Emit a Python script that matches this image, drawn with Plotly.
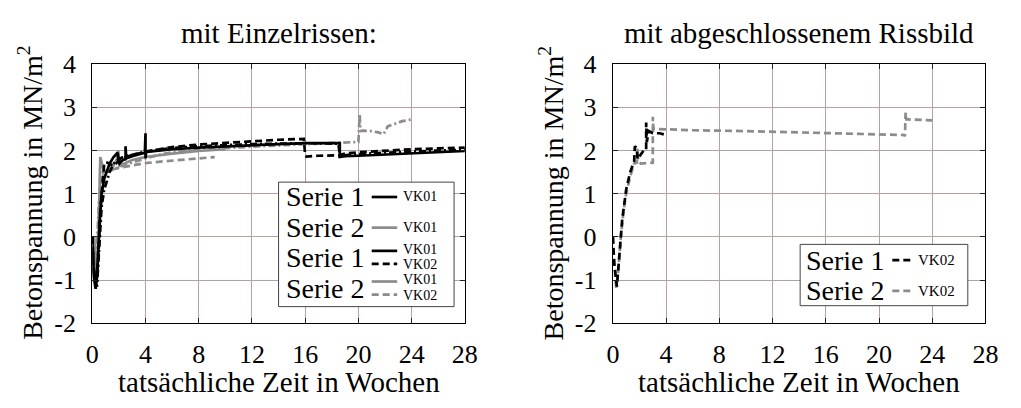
import plotly.graph_objects as go

# ---------------- data: left panel "mit Einzelrissen" ----------------
L_s1_vk01_x = [0, 0.1, 0.25, 0.4, 0.55, 0.7, 0.9, 1.1, 1.3, 1.6, 1.9, 2.0, 2.05, 2.3, 2.5, 2.5, 2.55, 3.0, 3.5, 3.95, 4.0, 4.0, 4.05, 5, 6, 8, 10, 12, 14, 16, 17, 18.6, 18.6, 19, 20, 22, 24, 26, 28]
L_s1_vk01_y = [0, -0.9, -1.2, -0.6, 0.3, 1.0, 1.35, 1.55, 1.7, 1.85, 1.95, 1.75, 1.7, 1.78, 1.8, 2.1, 1.82, 1.87, 1.92, 1.95, 2.4, 1.82, 1.97, 2.0, 2.03, 2.07, 2.1, 2.12, 2.15, 2.17, 2.17, 2.17, 1.85, 1.87, 1.88, 1.91, 1.94, 1.97, 1.99]

L_s1_vk02_x = [0, 0.1, 0.3, 0.45, 0.6, 0.75, 0.9, 1.1, 1.3, 1.5, 1.8, 2.1, 2.5, 3, 4, 5, 6, 8, 10, 12, 14, 15.9, 16.0, 16.1, 17, 18.5, 19, 20, 22, 24, 26, 28]
L_s1_vk02_y = [0, -0.7, -1.15, -0.5, 0.6, 1.2, 1.72, 1.72, 1.7, 1.65, 1.7, 1.8, 1.85, 1.9, 1.97, 2.03, 2.08, 2.14, 2.18, 2.22, 2.25, 2.27, 1.88, 1.86, 1.88, 1.89, 1.93, 1.96, 2.0, 2.03, 2.05, 2.07]

L_s1_mix_x = [0, 0.15, 0.35, 0.5, 0.7, 0.9, 1.1, 1.3, 1.6, 2.0, 2.5, 3, 4, 6, 8, 12, 16, 18.5, 18.6, 20, 22, 24, 26, 28]
L_s1_mix_y = [0, -1.0, -1.15, -0.3, 0.7, 1.1, 1.3, 1.5, 1.7, 1.8, 1.88, 1.9, 1.98, 2.06, 2.1, 2.15, 2.17, 2.16, 1.88, 1.92, 1.95, 1.98, 2.0, 2.02]

L_s2_vk01_x = [0.15, 0.3, 0.45, 0.55, 0.6, 0.8, 1.0, 1.3, 1.6, 1.85, 1.95, 2.05, 2.5, 3, 4, 6, 8, 10]
L_s2_vk01_y = [0, -1.1, -0.2, 1.0, 1.85, 1.6, 1.5, 1.55, 1.65, 1.8, 2.0, 1.65, 1.72, 1.78, 1.85, 1.93, 1.99, 2.03]

L_s2_vk02_x = [0.35, 0.5, 0.6, 0.8, 1.0, 1.5, 2, 3, 4, 5, 6, 7, 8, 9.2]
L_s2_vk02_y = [-0.8, 0.5, 1.4, 1.5, 1.52, 1.56, 1.6, 1.66, 1.71, 1.74, 1.77, 1.8, 1.82, 1.85]

L_s2_mix_x = [0.3, 0.5, 0.7, 1.0, 1.5, 2, 3, 4, 5, 6, 8, 10, 12, 14, 16, 18, 20.0, 20.1, 20.15, 20.3, 21.0, 21.5, 21.9, 22.2, 22.7, 23.3, 24.0]
L_s2_mix_y = [-0.5, 0.8, 1.45, 1.5, 1.55, 1.62, 1.72, 1.82, 1.9, 1.96, 2.02, 2.06, 2.09, 2.12, 2.15, 2.18, 2.2, 2.85, 2.45, 2.46, 2.45, 2.42, 2.38, 2.56, 2.62, 2.68, 2.72]

# ---------------- data: right panel "mit abgeschlossenem Rissbild" ----------------
R_s1_vk02_x = [0, 0.1, 0.3, 0.5, 0.7, 1.0, 1.3, 1.6, 1.65, 1.8, 1.85, 2.3, 2.5, 2.5, 2.55, 2.7, 3.0, 3.5, 3.9]
R_s1_vk02_y = [0, -0.6, -1.15, -0.4, 0.4, 1.1, 1.5, 1.75, 2.1, 2.05, 1.8, 2.0, 2.0, 2.65, 2.2, 2.45, 2.4, 2.4, 2.37]

R_s2_vk02_x = [0, 0.05, 0.25, 0.4, 0.6, 0.8, 1.0, 1.3, 1.6, 1.8, 1.85, 1.9, 2.1, 2.9, 3.0, 3.0, 3.05, 3.2, 6, 10, 14, 18, 21.9, 21.95, 22.0, 22.05, 22.2, 24.0]
R_s2_vk02_y = [0, -0.4, -1.18, -0.8, 0, 0.6, 1.0, 1.4, 1.7, 1.72, 2.05, 1.75, 1.7, 1.72, 1.72, 2.78, 2.5, 2.5, 2.47, 2.45, 2.42, 2.4, 2.36, 2.33, 2.88, 2.72, 2.72, 2.7]

x_ticks = [0, 4, 8, 12, 16, 20, 24, 28]
y_ticks = [-2, -1, 0, 1, 2, 3, 4]
y_tick_text = ["-2", "-1", "0", "1", "2", "3", "4"]

titles = ["mit Einzelrissen:", "mit abgeschlossenem Rissbild"]
x_title = "tatsächliche Zeit in Wochen"
y_title = "Betonspannung in MN/m<sup>2</sup>"

BLACK = "#000000"
GREY = "#8c8c8c"
DASH = "7px,4px"
DASHDOT = "7px,3px,2px,3px"
FONT = "Liberation Serif, Times New Roman, DejaVu Serif, serif"
W, H = 1021, 408
LW = 2.7

fig = go.Figure()


def add(x, y, color, dash, xa, ya):
    fig.add_trace(go.Scatter(x=x, y=y, mode="lines", xaxis=xa, yaxis=ya,
                             line=dict(color=color, dash=dash, width=LW),
                             showlegend=False, hoverinfo="skip"))


add(L_s2_vk02_x, L_s2_vk02_y, GREY, DASH, "x", "y")
add(L_s2_vk01_x, L_s2_vk01_y, GREY, "solid", "x", "y")
add(L_s2_mix_x, L_s2_mix_y, GREY, DASHDOT, "x", "y")
add(L_s1_mix_x, L_s1_mix_y, BLACK, DASHDOT, "x", "y")
add(L_s1_vk02_x, L_s1_vk02_y, BLACK, DASH, "x", "y")
add(L_s1_vk01_x, L_s1_vk01_y, BLACK, "solid", "x", "y")
add(R_s2_vk02_x, R_s2_vk02_y, GREY, DASH, "x2", "y2")
add(R_s1_vk02_x, R_s1_vk02_y, BLACK, DASH, "x2", "y2")

axis_common = dict(showline=True, linecolor="black", linewidth=1.4, mirror="ticks",
                   ticks="inside", ticklen=5, tickcolor="#222", tickwidth=1,
                   showgrid=True, gridcolor="#b7a0a0", gridwidth=1, zeroline=False,
                   tickfont=dict(family=FONT, size=26, color="black"))

yd = [1 - 333 / H, 1 - 54 / H]
fig.update_layout(
    width=W, height=H, margin=dict(l=0, r=0, t=0, b=0),
    plot_bgcolor="white", paper_bgcolor="white",
    font=dict(family=FONT, color="black"),
    xaxis=dict(domain=[87 / W, 467 / W], range=[0, 28], tickvals=x_ticks, anchor="y",
               ticklabelstandoff=7, **axis_common),
    yaxis=dict(domain=yd, range=[-2, 4], tickvals=y_ticks, ticktext=y_tick_text, anchor="x",
               ticklabelstandoff=10, **axis_common),
    xaxis2=dict(domain=[618 / W, 998 / W], range=[0, 28], tickvals=x_ticks, anchor="y2",
                ticklabelstandoff=7, **axis_common),
    yaxis2=dict(domain=yd, range=[-2, 4], tickvals=y_ticks, ticktext=y_tick_text, anchor="x2",
                ticklabelstandoff=10, **axis_common),
)


def px(x):
    return x / W


def py(y):
    return 1 - y / H


ann = []
shapes = []


def text(x, y, s, size, xanchor="center", angle=0):
    ann.append(dict(x=px(x), y=py(y), xref="paper", yref="paper", text=s, showarrow=False,
                    xanchor=xanchor, yanchor="middle", textangle=angle,
                    font=dict(family=FONT, size=size, color="black")))


for cx, t in [(277, titles[0]), (808, titles[1])]:
    text(cx, 20, t, 29)
    text(cx, 396, x_title, 29)
for cx in [24, 555]:
    text(cx, 193, y_title, 28, angle=-90)


def box(x0, y0, x1, y1):
    shapes.append(dict(type="rect", xref="paper", yref="paper", x0=px(x0), x1=px(x1),
                       y0=py(y1), y1=py(y0), fillcolor="white",
                       line=dict(color="#444", width=1), layer="above"))


def sample(x0, x1, y, color, dash):
    shapes.append(dict(type="line", xref="paper", yref="paper", x0=px(x0), x1=px(x1),
                       y0=py(y), y1=py(y), line=dict(color=color, width=LW, dash=dash),
                       layer="above"))


# left legend
box(277, 181, 456, 315)
legend_left = [("Serie 1", 197, [(BLACK, "solid", 197, 197, "VK01")]),
               ("Serie 2", 230, [(GREY, "solid", 230, 230, "VK01")]),
               ("Serie 1", 262, [(BLACK, "solid", 255, 253, "VK01"), (BLACK, DASH, 269, 270, "VK02")]),
               ("Serie 2", 295, [(GREY, "solid", 288, 286, "VK01"), (GREY, DASH, 302, 303, "VK02")])]
for lab, ty, items in legend_left:
    text(283, ty, lab, 28, xanchor="left")
    for col, d, ly, tyy, vk in items:
        sample(372, 398, ly, col, d)
        text(402, tyy, vk, 14, xanchor="left")

# right legend
box(809, 248, 980, 314)
legend_right = [("Serie 1", 265, BLACK), ("Serie 2", 298, GREY)]
for lab, ty, col in legend_right:
    text(813, ty, lab, 28, xanchor="left")
    sample(903, 923, ty, col, DASH)
    text(927, ty, "VK02", 15, xanchor="left")

fig.update_layout(annotations=ann, shapes=shapes)
fig.write_html("out.html")
